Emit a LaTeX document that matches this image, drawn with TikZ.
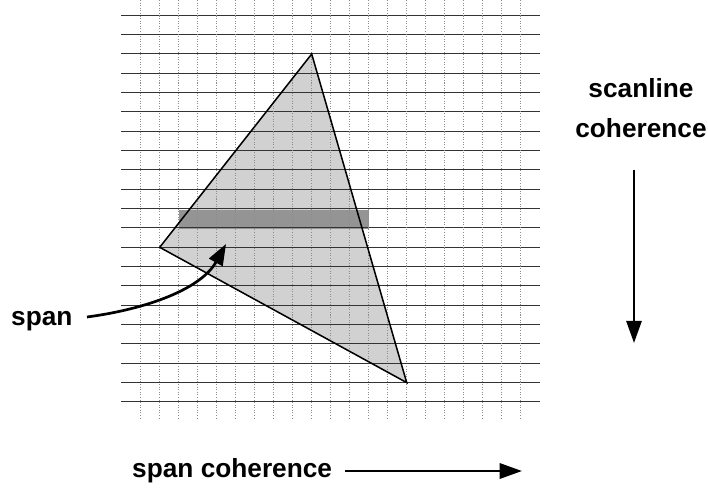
\documentclass[tikz,border=0pt]{standalone}
\usepackage{fontspec}
\setmainfont{Liberation Sans}
\usepackage{tikz}
\usetikzlibrary{arrows.meta,positioning}

\tikzset{
  scanrow/.style={black!80,line width=0.8pt},
  pixcol/.style={black!45,line width=0.45pt,dash pattern=on 0.9pt off 1.3pt},
  lbl/.style={font=\fontsize{22.4}{34}\selectfont\bfseries,inner sep=0pt},
  bigarrow/.style={line width=2.1pt,-{Triangle[length=19pt,width=13pt]}},
}

\begin{document}
\begin{tikzpicture}[x=0.03cm,y=-0.03cm]
  \useasboundingbox (0,0) rectangle (708,491);
  % triangle corners on the pixel grid
  \coordinate (apex) at (311.7,54);
  \coordinate (left) at (159.7,247.3);
  \coordinate (low) at (406.7,382.6);
  \fill[black!18] (apex) -- (left) -- (low) -- cycle;
  % the span
  \fill[black!42] (178.7,209.5) rectangle (368.7,229);
  % pixel grid
  \foreach \k in {0,...,20} {
    \draw[pixcol] (140.7+19*\k,0) -- (140.7+19*\k,420);
    \draw[scanrow] (121,15.3+19.33*\k) -- (540,15.3+19.33*\k);
  }
  \draw[line width=1.3pt] (apex) -- (left) -- (low) -- cycle;

  % labels
  \node[lbl,align=center] (scantext) at (641,108) {scanline\\coherence};
  \node[lbl,anchor=base west] (spantext) at (11,325) {span};
  \node[lbl,anchor=base west] (cohtext) at (132,477) {span coherence};

  \coordinate (scantail) at (634,170);
  \coordinate (scantip) at (634,343);
  \coordinate (spantail) at (87,317);
  \coordinate (spantip) at (226,244);
  \coordinate (cohtail) at (345,471);
  \coordinate (cohtip) at (522,471);

  \draw[bigarrow] (scantail) -- (scantip);
  \draw[bigarrow] (cohtail) -- (cohtip);
  \draw[line width=2.3pt,-{Triangle[length=18pt,width=13pt]}]
    (spantail) .. controls (147,309) and (201,289) .. (spantip);
\end{tikzpicture}
\end{document}
